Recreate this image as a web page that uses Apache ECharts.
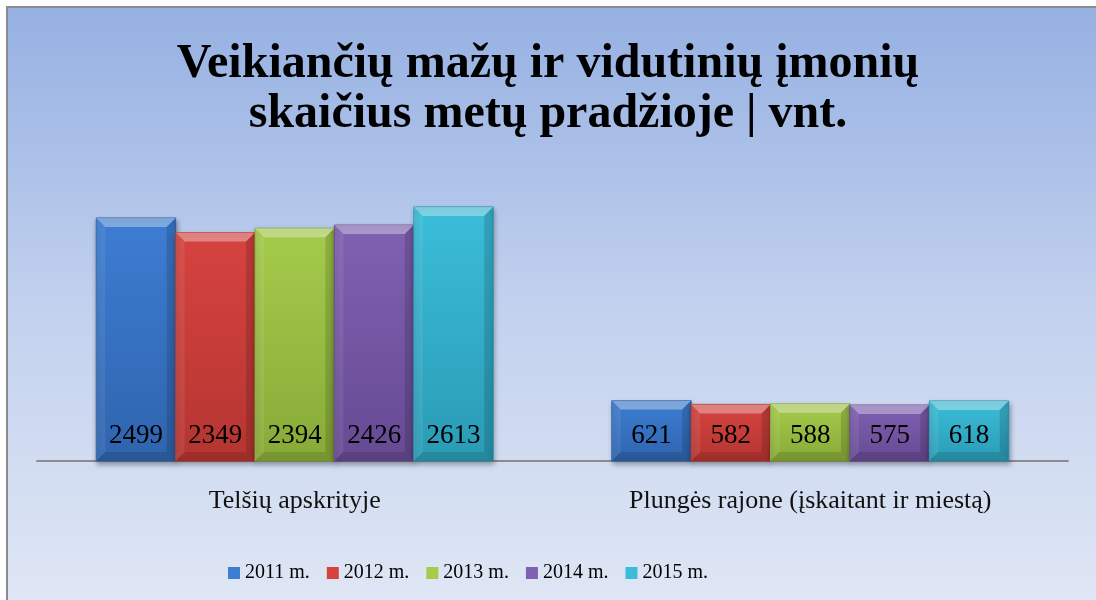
<!DOCTYPE html>
<html>
<head>
<meta charset="utf-8">
<script src="https://cdn.jsdelivr.net/npm/echarts@6/dist/echarts.min.js"></script>
<style>
html, body { margin: 0; padding: 0; background: #fff; }
#chart { width: 1096px; height: 600px; }
</style>
</head>
<body>
<div id="chart"></div>
<script>
// duomenys
var categories = ['Telšių apskrityje', 'Plungės rajone (įskaitant ir miestą)'];
var years = ['2011 m.', '2012 m.', '2013 m.', '2014 m.', '2015 m.'];
var v2011 = [2499, 621];
var v2012 = [2349, 582];
var v2013 = [2394, 588];
var v2014 = [2426, 575];
var v2015 = [2613, 618];
var values = [v2011, v2012, v2013, v2014, v2015];

var colors = ['#3d7dd2', '#d6433f', '#a5cb4b', '#8060b2', '#3bbdd9'];
var dark = ['#2f64ae', '#b53531', '#88aa38', '#664a93', '#2a9bb5'];
var gap = 0.23;
var serif = "'Liberation Serif', 'Times New Roman', serif";

function bevelBar(si) {
    return function (params, api) {
        var cat = api.value(0);
        var val = api.value(1);
        var base = api.coord([cat, 0]);
        var top = api.coord([cat, val]);
        var band = api.size([1, 0])[0];
        var bw = band * (1 - gap) / years.length;
        var x = base[0] - bw * years.length / 2 + si * bw;
        var y = top[1];
        var w = bw;
        var h = base[1] - top[1];
        var b = 9; // briaunos plotis
        return {
            type: 'group',
            children: [
                {
                    type: 'rect',
                    shape: { x: x, y: y, width: w, height: h },
                    style: {
                        fill: new echarts.graphic.LinearGradient(0, 0, 0, 1, [
                            { offset: 0, color: colors[si] },
                            { offset: 1, color: dark[si] }
                        ]),
                        stroke: dark[si],
                        lineWidth: 1,
                        shadowBlur: 5,
                        shadowOffsetX: 1,
                        shadowOffsetY: 3,
                        shadowColor: 'rgba(0,0,0,0.35)'
                    }
                },
                {
                    type: 'polygon',
                    shape: { points: [[x, y], [x + w, y], [x + w - b, y + b], [x + b, y + b]] },
                    style: { fill: 'rgba(255,255,255,0.35)' }
                },
                {
                    type: 'polygon',
                    shape: { points: [[x, y], [x + b, y + b], [x + b, y + h - b], [x, y + h]] },
                    style: { fill: 'rgba(255,255,255,0.08)' }
                },
                {
                    type: 'polygon',
                    shape: { points: [[x + w, y], [x + w - b, y + b], [x + w - b, y + h - b], [x + w, y + h]] },
                    style: { fill: 'rgba(0,0,0,0.14)' }
                },
                {
                    type: 'polygon',
                    shape: { points: [[x, y + h], [x + b, y + h - b], [x + w - b, y + h - b], [x + w, y + h]] },
                    style: { fill: 'rgba(0,0,0,0.12)' }
                },
                {
                    type: 'text',
                    style: {
                        text: String(val),
                        x: x + w / 2,
                        y: base[1] - 25,
                        align: 'center',
                        verticalAlign: 'middle',
                        font: '27px ' + serif,
                        fill: '#000'
                    }
                }
            ]
        };
    };
}

var myChart = echarts.init(document.getElementById('chart'));
var series = years.map(function (name, si) {
    return {
        name: name,
        type: 'custom',
        renderItem: bevelBar(si),
        itemStyle: { color: colors[si] },
        encode: { x: 0, y: 1 },
        data: values[si].map(function (d, i) { return [i, d]; })
    };
});

var option = {
    backgroundColor: '#fff',
    graphic: [{
        type: 'rect',
        z: -10,
        silent: true,
        shape: { x: 7, y: 7, width: 1100, height: 600 },
        style: {
            fill: new echarts.graphic.LinearGradient(0, 0, 0, 1, [
                { offset: 0, color: '#95b0e2' },
                { offset: 0.5, color: '#c2d1ee' },
                { offset: 1, color: '#e0e7f5' }
            ]),
            stroke: '#8c8c8c',
            lineWidth: 2
        }
    }],
    title: {
        text: 'Veikiančių mažų ir vidutinių įmonių\nskaičius metų pradžioje | vnt.',
        left: 'center',
        top: 35,
        textStyle: {
            fontFamily: serif,
            fontWeight: 'bold',
            fontSize: 48,
            lineHeight: 50,
            color: '#000'
        }
    },
    legend: {
        data: years,
        top: 558,
        left: 223,
        icon: 'rect',
        itemWidth: 12,
        itemHeight: 12,
        itemGap: 17,
        textStyle: { fontFamily: serif, fontSize: 20, color: '#000' }
    },
    grid: { left: 37, right: 28, top: 169.3, bottom: 139 },
    xAxis: {
        type: 'category',
        data: categories,
        axisLine: { lineStyle: { color: '#8c8c8c', width: 2 } },
        axisTick: { show: false },
        axisLabel: { fontFamily: serif, fontSize: 26, color: '#111', margin: 27 }
    },
    yAxis: {
        type: 'value',
        min: 0,
        max: 3000,
        show: false,
        splitLine: { show: false }
    },
    series: series
};
myChart.setOption(option);
</script>
</body>
</html>
